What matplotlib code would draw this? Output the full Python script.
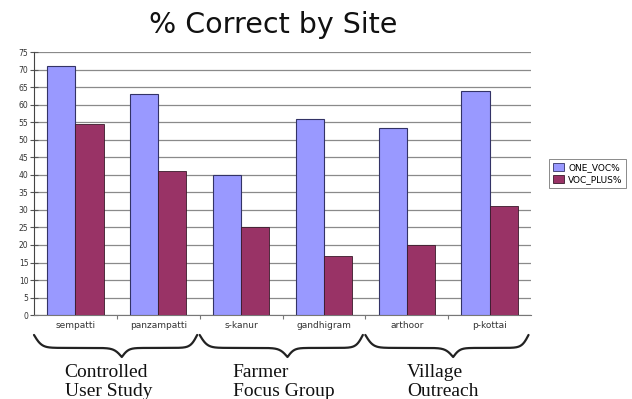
import numpy as np
import matplotlib.pyplot as plt
from matplotlib.patches import Patch

sites = ['sempatti', 'panzampatti', 's-kanur', 'gandhigram', 'arthoor', 'p-kottai']
one_voc = [71, 63, 40, 56, 53.5, 64]
voc_plus = [54.5, 41, 25, 17, 20, 31]
series_names = ['ONE_VOC%', 'VOC_PLUS%']
groups = [['Controlled', 'User Study'], ['Farmer', 'Focus Group'], ['Village', 'Outreach']]
yticks = list(range(0, 80, 5))

blue = '#9999ff'
red = '#993366'

fig = plt.figure(figsize=(6.32, 3.99), dpi=100)
ax = fig.add_axes([0.0538, 0.2105, 0.7864, 0.658])

x = np.arange(len(sites))
w = 0.34
ax.bar(x - w/2, one_voc, w, color=blue, edgecolor='#333366', linewidth=0.8, zorder=3)
ax.bar(x + w/2, voc_plus, w, color=red, edgecolor='#3a1a2a', linewidth=0.6, zorder=3)

ax.set_ylim(0, 75)
ax.set_xlim(-0.5, len(sites) - 0.5)
ax.set_yticks(yticks)
ax.set_yticklabels([str(v) for v in yticks], fontsize=5.5, color='#333333')
ax.yaxis.grid(True, color='#8a8a8a', linewidth=0.9, zorder=0)
ax.tick_params(axis='y', direction='inout', length=6, width=0.8, color='#555555', pad=1)

# category labels between boundary ticks
ax.set_xticks(np.arange(1, len(sites)) - 0.5)
ax.set_xticklabels([])
ax.set_xticks(x, minor=True)
ax.set_xticklabels(sites, minor=True, fontsize=6.5, color='#333333')
ax.tick_params(axis='x', which='major', direction='out', length=3, width=0.8, color='#777777')
ax.tick_params(axis='x', which='minor', length=0, pad=4)

for s in ['top', 'right']:
    ax.spines[s].set_visible(False)
ax.spines['left'].set_color('#444444')
ax.spines['bottom'].set_color('#777777')

fig.text(0.432, 0.938, '% Correct by Site', ha='center', va='center',
         fontsize=20.5, family='DejaVu Sans', color='#111111')

leg = fig.legend(handles=[Patch(facecolor=blue, edgecolor='#333366', linewidth=0.6),
                          Patch(facecolor=red, edgecolor='#3a1a2a', linewidth=0.6)],
                 labels=series_names, loc='center', bbox_to_anchor=(0.93, 0.565),
                 fontsize=6.5, frameon=True, fancybox=False, edgecolor='#555555',
                 handlelength=1.2, handleheight=1.0, borderpad=0.4, labelspacing=0.3,
                 handletextpad=0.5)
leg.get_frame().set_linewidth(0.6)


# curly braces under each pair of sites
def brace(ax, x0, x1, xtip, ytop, ybody, ytip):
    n = 401
    t = np.linspace(0, 1, n)
    beta = 45.0
    half_t = t[:n // 2 + 1]
    yh = 1 / (1 + np.exp(-beta * half_t)) + 1 / (1 + np.exp(-beta * (half_t - half_t[-1])))
    yh = (yh - yh.min()) / (yh.max() - yh.min())
    yy = np.concatenate((yh, yh[-2::-1]))
    # left half runs x0 -> xtip, right half xtip -> x1
    xx = np.where(t <= 0.5, x0 + (xtip - x0) * t / 0.5, xtip + (x1 - xtip) * (t - 0.5) / 0.5)
    y = np.where(yy < 0.5, ytop + (ybody - ytop) * yy / 0.5,
                 ybody + (ytip - ybody) * (yy - 0.5) / 0.5)
    ax.plot(xx, y, color='#222222', linewidth=1.6, clip_on=False,
            solid_capstyle='round')


text_x = [-0.13, 1.90, 4.00]
for i, g in enumerate(groups):
    brace(ax, 2 * i - 0.5, 2 * i + 1.47, 2 * i + 0.56, -5.7, -9.4, -12.0)
    ax.text(text_x[i], -17.6, g[0], ha='left', va='baseline',
            fontsize=14, family='Liberation Serif', color='#111111', clip_on=False)
    ax.text(text_x[i], -23.1, g[1], ha='left', va='baseline',
            fontsize=14, family='Liberation Serif', color='#111111', clip_on=False)

ax.set_ylim(0, 75)
fig.savefig('out.png', dpi=100)
